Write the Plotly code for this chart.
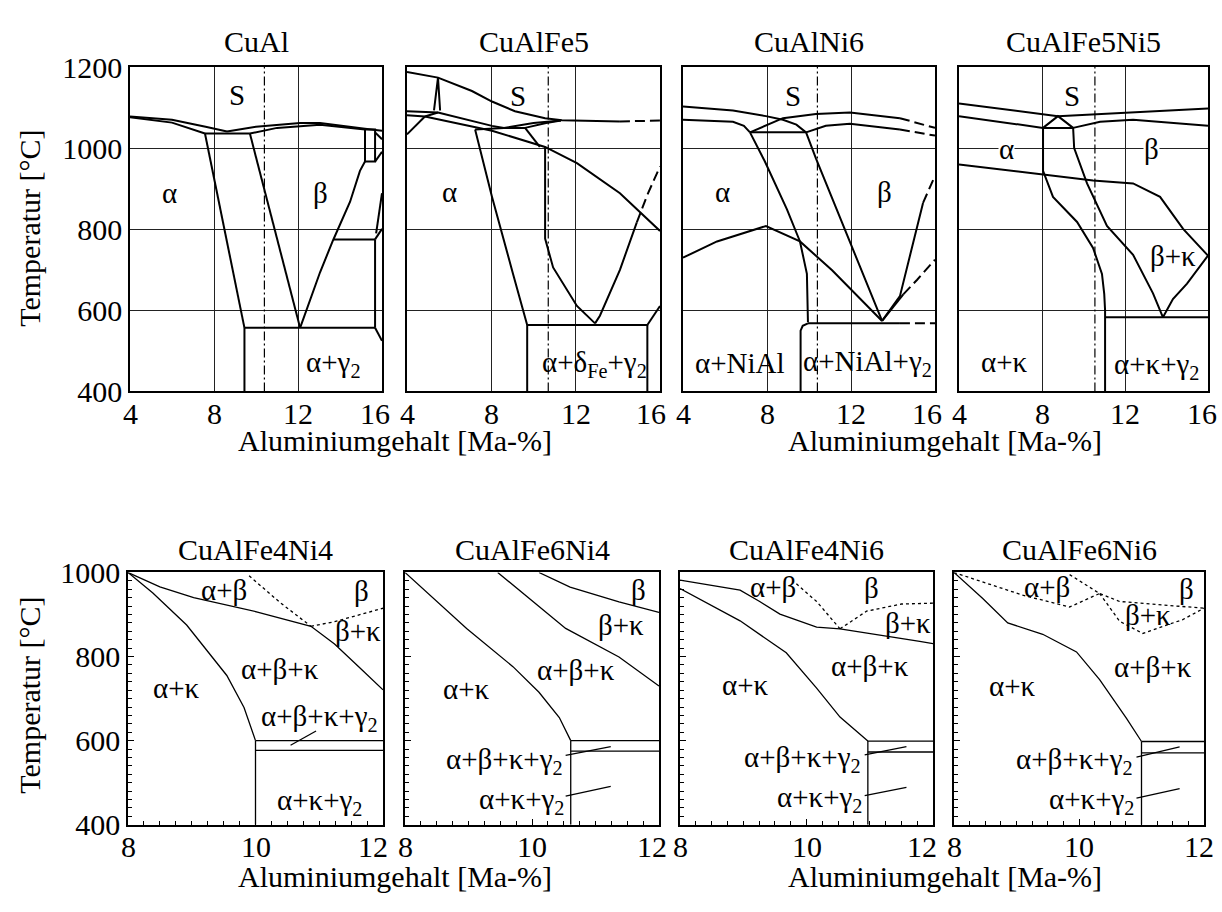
import plotly.graph_objects as go

W, H = 1222, 912
FONT = "Liberation Serif"

# ---------------- upper row: Al 4..16 %, 400..1200 °C ----------------
# each boundary line is (Al contents, temperatures)

cual_solid = [
    ([4, 6, 7.6, 8.62], [1078, 1070, 1053, 1041]),
    ([4, 6, 7.57], [1076, 1063, 1036]),
    ([7.57, 9.71], [1036, 1036]),
    ([8.62, 10, 12.1, 13.05, 15.19, 16], [1041, 1053, 1062, 1062, 1048, 1043]),
    ([9.71, 11, 13.05, 15.19], [1036, 1050, 1058, 1046]),
    ([7.57, 9.45], [1036, 557]),
    ([9.71, 12.1], [1036, 557]),
    ([9.45, 9.45], [557, 400]),
    ([9.45, 15.67], [557, 557]),
    ([15.67, 16], [557, 525]),
    ([12.1, 13.05, 13.67, 14.48, 14.95, 15.19], [557, 694, 773, 868, 944, 967]),
    ([15.19, 15.19, 15.67, 15.67, 15.19], [1046, 967, 967, 1046, 1046]),
    ([15.67, 16], [1039, 1022]),
    ([15.67, 16], [967, 991]),
    ([13.67, 15.67], [775, 775]),
    ([15.67, 15.67], [775, 557]),
    ([15.67, 16], [775, 801]),
    ([15.72, 15.85, 16], [790, 835, 889]),
]
cual_dashed = []
cual_section = 10.4
cual_labels = [("S", 9.1, 1130), ("α", 5.9, 890), ("β", 13.05, 890),
               ("α+γ<sub>2</sub>", 13.7, 469)]

cufe5_solid = [
    ([4, 5.47, 7.08, 8.03, 9.12, 10.55, 11.35, 14.1],
     [1188, 1174, 1141, 1115, 1091, 1074, 1069, 1066]),
    ([5.28, 5.47, 5.57], [1093, 1174, 1093]),
    ([4, 5.47, 8.03, 8.6], [1091, 1088, 1055, 1050]),
    ([4, 4.85, 8.03, 10.55, 12.06, 14.1, 16], [1081, 1078, 1043, 1003, 963, 889, 796]),
    ([4.85, 4], [1078, 1034]),
    ([4.85, 5.47], [1078, 1088]),
    ([7.23, 7.6, 8.03, 9.03, 9.7], [1046, 967, 880, 690, 564]),
    ([9.7, 9.7], [564, 400]),
    ([9.7, 15.4], [564, 564]),
    ([15.4, 15.4], [564, 400]),
    ([15.4, 16], [564, 611]),
    ([7.23, 8.6, 9.6], [1046, 1050, 1050]),
    ([8.6, 10.0, 11.3], [1050, 1062, 1068]),
    ([9.6, 10.6, 11.3], [1050, 1062, 1068]),
    ([9.6, 10.3], [1050, 1003]),
    ([10.55, 10.55, 10.93, 12.06, 12.92], [1003, 777, 706, 611, 568]),
    ([12.92, 13.15, 14.1, 14.9], [568, 587, 700, 817]),
]
cufe5_dashed = [
    ([14.1, 16], [1066, 1068]),
    ([14.9, 15.4, 16], [817, 885, 955]),
]
cufe5_section = 10.7
cufe5_labels = [("S", 9.27, 1129), ("α", 6.0, 891),
                ("α+δ<sub>Fe</sub>+γ<sub>2</sub>", 12.87, 469)]

cuni6_solid = [
    ([4, 6.38, 7.95, 8.76, 9.4, 9.86, 10.33, 13.48],
     [1103, 1093, 1079, 1070, 1058, 1039, 975, 574]),
    ([4, 6.38, 6.9, 7.19], [1070, 1065, 1055, 1039]),
    ([7.19, 9.86], [1039, 1039]),
    ([7.19, 7.9, 8.95, 9.57, 9.9, 9.95], [1039, 967, 849, 770, 690, 571]),
    ([9.95, 14.33], [568, 568]),
    ([9.6, 9.6, 9.7, 9.95], [400, 550, 562, 568]),
    ([7.19, 8.76, 10.33, 11.95, 14.33], [1039, 1074, 1084, 1088, 1074]),
    ([9.86, 10.8, 11.95, 14.33], [1039, 1055, 1060, 1046]),
    ([4, 5.62, 7.95, 9.57, 11.1, 13.48], [730, 770, 808, 770, 699, 574]),
    ([13.48, 14.33, 15.43], [574, 635, 865]),
    ([13.48, 14.5], [574, 640]),
]
cuni6_dashed = [
    ([14.33, 16], [568, 568]),
    ([14.33, 16], [1074, 1050]),
    ([14.33, 16], [1046, 1031]),
    ([15.43, 16], [865, 932]),
    ([14.5, 15.14, 16], [640, 675, 725]),
]
cuni6_section = 10.4
cuni6_labels = [("S", 9.24, 1129), ("α", 5.9, 891), ("β", 13.6, 891),
                ("α+NiAl", 6.7, 470), ("α+NiAl+γ<sub>2</sub>", 12.8, 470)]

cufe5ni5_solid = [
    ([4, 8.77, 16], [1110, 1079, 1098]),
    ([4, 8.05], [1079, 1050]),
    ([8.05, 8.77, 9.5], [1050, 1079, 1050]),
    ([8.05, 9.5], [1050, 1050]),
    ([9.5, 10.8, 12.39, 16], [1050, 1065, 1070, 1055]),
    ([8.05, 8.05, 8.53, 9.69, 10.46, 10.89, 11.0, 11.04, 11.04],
     [1050, 944, 880, 818, 754, 690, 640, 600, 400]),
    ([9.5, 9.55, 10.17, 11.13, 12.39, 13.35, 13.83], [1050, 1000, 913, 808, 737, 642, 583]),
    ([4, 8.05, 10.46, 12.39, 13.69, 14.8, 16], [960, 936, 920, 913, 880, 801, 735]),
    ([16, 14.99, 14.31, 13.83], [735, 666, 628, 583]),
    ([11.04, 16], [583, 583]),
]
cufe5ni5_dashed = []
cufe5ni5_section = 10.55
cufe5ni5_labels = [("S", 9.45, 1129), ("α", 6.3, 998), ("β", 13.3, 998),
                   ("β+κ", 14.3, 735), ("α+κ", 6.2, 473),
                   ("α+κ+γ<sub>2</sub>", 13.5, 462)]

# ---------------- lower row: Al 8..12 %, 400..1000 °C ----------------
fe4ni4_solid = [
    ([8, 8.39, 8.92, 9.24, 9.55, 9.82, 10], [1000, 951, 875, 815, 755, 679, 600]),
    ([8, 8.5, 9.03, 10.03, 10.87, 11.24, 11.66, 12], [1000, 966, 940, 906, 872, 830, 770, 721]),
    ([10, 12], [600, 600]),
    ([10, 12], [577, 577]),
    ([10, 10], [600, 400]),
    ([10.55, 10.95], [589, 623]),
]
fe4ni4_dotted = [
    ([9.9, 10.39, 10.87], [992, 928, 872]),
    ([10.87, 11.24, 12], [872, 883, 915]),
]
fe4ni4_labels = [("α+β", 9.5, 958), ("β", 11.67, 955), ("β+κ", 11.61, 860),
                 ("α+β+κ", 10.39, 770), ("α+κ", 8.76, 725),
                 ("α+β+κ+γ<sub>2</sub>", 11.0, 653), ("α+κ+γ<sub>2</sub>", 11.0, 453)]

fe6ni4_solid = [
    ([8, 8.97, 9.7, 10.11, 10.43, 10.61], [1000, 867, 776, 715, 655, 600]),
    ([9.46, 10.53, 11.37, 12], [1000, 867, 799, 730]),
    ([10.11, 10.6, 11.37, 12], [1000, 965, 930, 905]),
    ([10.61, 12], [600, 600]),
    ([10.61, 12], [575, 575]),
    ([10.61, 10.61], [600, 400]),
    ([10.53, 11.24], [565, 586]),
    ([10.53, 11.24], [468, 491]),
]
fe6ni4_dotted = []
fe6ni4_labels = [("β", 11.68, 959), ("β+κ", 11.4, 875), ("α+β+κ", 10.7, 768),
                 ("α+κ", 8.97, 723), ("α+β+κ+γ<sub>2</sub>", 9.57, 552),
                 ("α+κ+γ<sub>2</sub>", 9.83, 457)]

fe4ni6_solid = [
    ([8, 8.95, 9.26, 9.58, 10.16, 10.53, 11.79, 12], [982, 958, 931, 901, 870, 866, 836, 831]),
    ([8, 8.95, 9.68, 10.16, 10.53, 10.97], [962, 885, 809, 725, 656, 599]),
    ([10.97, 12], [599, 599]),
    ([10.97, 12], [573, 573]),
    ([10.97, 10.97], [599, 400]),
    ([10.92, 11.58], [566, 586]),
    ([10.92, 11.58], [469, 489]),
]
fe4ni6_dotted = [
    ([9.84, 10.16, 10.53], [973, 931, 866]),
    ([10.53, 10.95, 11.5, 12], [866, 908, 925, 927]),
]
fe4ni6_labels = [("α+β", 9.47, 966), ("β", 11.03, 962), ("β+κ", 11.6, 880),
                 ("α+β+κ", 11.0, 778), ("α+κ", 9.03, 732),
                 ("α+β+κ+γ<sub>2</sub>", 9.93, 557), ("α+κ+γ<sub>2</sub>", 10.2, 461)]

fe6ni6_solid = [
    ([8, 8.46, 8.86, 9.42, 9.96, 10.33, 10.76, 11.0], [1000, 938, 880, 853, 811, 745, 653, 598]),
    ([11, 12], [598, 598]),
    ([11, 12], [571, 571]),
    ([11, 11], [598, 400]),
    ([10.92, 11.61], [561, 585]),
    ([10.92, 11.61], [463, 486]),
]
fe6ni6_dotted = [
    ([8, 9.1, 9.85, 10.33], [1000, 946, 918, 950]),
    ([9.85, 10.33, 10.65, 12], [995, 950, 931, 915]),
    ([10.33, 10.65, 11.02, 11.66, 12], [950, 884, 855, 888, 915]),
]
fe6ni6_labels = [("α+β", 9.48, 965), ("β", 11.72, 961), ("β+κ", 11.1, 900),
                 ("α+β+κ", 11.18, 776), ("α+κ", 8.94, 730),
                 ("α+β+κ+γ<sub>2</sub>", 9.93, 552), ("α+κ+γ<sub>2</sub>", 10.2, 456)]

top_titles = ["CuAl", "CuAlFe5", "CuAlNi6", "CuAlFe5Ni5"]
bottom_titles = ["CuAlFe4Ni4", "CuAlFe6Ni4", "CuAlFe4Ni6", "CuAlFe6Ni6"]
top_xticks = [4, 8, 12, 16]
bottom_xticks = [8, 10, 12]

top_panels = [
    (cual_solid, cual_dashed, cual_section, cual_labels),
    (cufe5_solid, cufe5_dashed, cufe5_section, cufe5_labels),
    (cuni6_solid, cuni6_dashed, cuni6_section, cuni6_labels),
    (cufe5ni5_solid, cufe5ni5_dashed, cufe5ni5_section, cufe5ni5_labels),
]
bottom_panels = [
    (fe4ni4_solid, fe4ni4_dotted, fe4ni4_labels),
    (fe6ni4_solid, fe6ni4_dotted, fe6ni4_labels),
    (fe4ni6_solid, fe4ni6_dotted, fe4ni6_labels),
    (fe6ni6_solid, fe6ni6_dotted, fe6ni6_labels),
]

# ---------------- frame geometry (pixels) ----------------
TOP_XPX = [(130, 382), (407, 660), (683, 935), (959, 1208)]
TOP_YPX = (52, 389)
BOT_XPX = [(128, 383), (405, 659), (680, 933), (954, 1204)]
BOT_YPX = (577, 839)
TOP_TICK_Y, BOT_TICK_Y = 412, 862
TOP_LAST_SHIFT = [-7, -9, -8, -6]
BOT_LAST_SHIFT = [-10, -7, -11, -5]

fig = go.Figure()
annotations = []


def tfont(size=30):
    return dict(family=FONT, size=size, color="black")


layout = dict(
    width=W, height=H, margin=dict(l=0, r=0, t=0, b=0),
    paper_bgcolor="white", plot_bgcolor="white", showlegend=False,
    font=tfont(),
)


def ax_names(n):
    return ("xaxis" if n == 1 else f"xaxis{n}", "yaxis" if n == 1 else f"yaxis{n}",
            "x" if n == 1 else f"x{n}", "y" if n == 1 else f"y{n}")


def add_line(xs, ys, xr, yr, width, dash="solid"):
    fig.add_trace(go.Scatter(x=xs, y=ys, mode="lines", xaxis=xr, yaxis=yr,
                             line=dict(color="black", width=width, dash=dash),
                             hoverinfo="skip", showlegend=False))


def add_label(text, x, y, xr, yr, bg=None):
    a = dict(text=text, x=x, y=y, xref=xr, yref=yr, showarrow=False,
             xanchor="center", yanchor="middle", font=tfont(29))
    if bg:
        a["bgcolor"] = bg
        a["borderpad"] = 0
    annotations.append(a)


def add_xtick_labels(values, xr, ypx, last_shift):
    for v in values:
        annotations.append(dict(text=str(v), x=v, y=1 - ypx / H, xref=xr, yref="paper",
                                showarrow=False, xanchor="center", yanchor="middle",
                                xshift=last_shift if v == values[-1] else 0,
                                font=tfont()))


# upper row
for i, (solid, dashed, section, labels) in enumerate(top_panels):
    n = i + 1
    xa, ya, xr, yr = ax_names(n)
    l, r = TOP_XPX[i]
    t, b = TOP_YPX
    layout[xa] = dict(domain=[l / W, r / W], range=[4, 16], tickvals=top_xticks,
                      showgrid=True, gridcolor="#222", gridwidth=1, showline=True,
                      mirror=True, linecolor="black", linewidth=1.5, ticks="",
                      zeroline=False, anchor=yr, showticklabels=False)
    layout[ya] = dict(domain=[1 - b / H, 1 - t / H], range=[400, 1200],
                      tickvals=[400, 600, 800, 1000, 1200], showgrid=True,
                      gridcolor="#222", gridwidth=1, showline=True, mirror=True,
                      linecolor="black", linewidth=1.5, ticks="", zeroline=False,
                      anchor=xr, showticklabels=(n == 1), tickfont=tfont())
    add_line([section, section], [400, 1200], xr, yr, 1.2, "9px,3px,2px,3px")
    for xs, ys in solid:
        add_line(xs, ys, xr, yr, 2)
    for xs, ys in dashed:
        add_line(xs, ys, xr, yr, 2, "10px,5px")
    for text, x, y in labels:
        bg = "white" if (n == 4 and text in ("α", "β")) else None
        add_label(text, x, y, xr, yr, bg)
    add_xtick_labels(top_xticks, xr, TOP_TICK_Y, TOP_LAST_SHIFT[i])
    annotations.append(dict(text=top_titles[i], x=(l + r) / 2 / W, y=1 - 25 / H,
                            xref="paper", yref="paper", showarrow=False,
                            xanchor="center", yanchor="middle", font=tfont()))

# lower row
for i, (solid, dotted, labels) in enumerate(bottom_panels):
    n = i + 5
    xa, ya, xr, yr = ax_names(n)
    l, r = BOT_XPX[i]
    t, b = BOT_YPX
    layout[xa] = dict(domain=[l / W, r / W], range=[8, 12], tickvals=bottom_xticks,
                      showgrid=False, showline=True, mirror=True, linecolor="black",
                      linewidth=1.5, ticks="inside", ticklen=6, tickcolor="black",
                      minor=dict(tickmode="linear", tick0=8, dtick=0.25, ticks="inside",
                                 ticklen=4, tickcolor="black", showgrid=False),
                      zeroline=False, anchor=yr, showticklabels=False)
    layout[ya] = dict(domain=[1 - b / H, 1 - t / H], range=[400, 1000],
                      tickvals=[400, 600, 800, 1000],
                      showgrid=False, showline=True, mirror=True, linecolor="black",
                      linewidth=1.5, ticks="inside", ticklen=6, tickcolor="black",
                      minor=dict(tickmode="linear", tick0=400, dtick=20, ticks="inside",
                                 ticklen=4, tickcolor="black", showgrid=False),
                      zeroline=False, anchor=xr, showticklabels=(n == 5),
                      tickfont=tfont())
    for xs, ys in solid:
        add_line(xs, ys, xr, yr, 1.3)
    for xs, ys in dotted:
        add_line(xs, ys, xr, yr, 1.3, "3px,3px")
    for text, x, y in labels:
        add_label(text, x, y, xr, yr)
    add_xtick_labels(bottom_xticks, xr, BOT_TICK_Y, BOT_LAST_SHIFT[i])
    annotations.append(dict(text=bottom_titles[i], x=(l + r) / 2 / W, y=1 - 553 / H,
                            xref="paper", yref="paper", showarrow=False,
                            xanchor="center", yanchor="middle", font=tfont()))

# axis titles
for ypx in (220, 705):
    annotations.append(dict(text="Temperatur [°C]", x=30 / W, y=1 - ypx / H,
                            xref="paper", yref="paper", showarrow=False, textangle=-90,
                            xanchor="center", yanchor="middle", font=tfont()))
for ypx in (440, 893):
    for xpx in (395, 945):
        annotations.append(dict(text="Aluminiumgehalt [Ma-%]", x=xpx / W, y=1 - ypx / H,
                                xref="paper", yref="paper", showarrow=False,
                                xanchor="center", yanchor="middle", font=tfont()))

layout["annotations"] = annotations
fig.update_layout(**layout)
fig.write_html("out.html")
